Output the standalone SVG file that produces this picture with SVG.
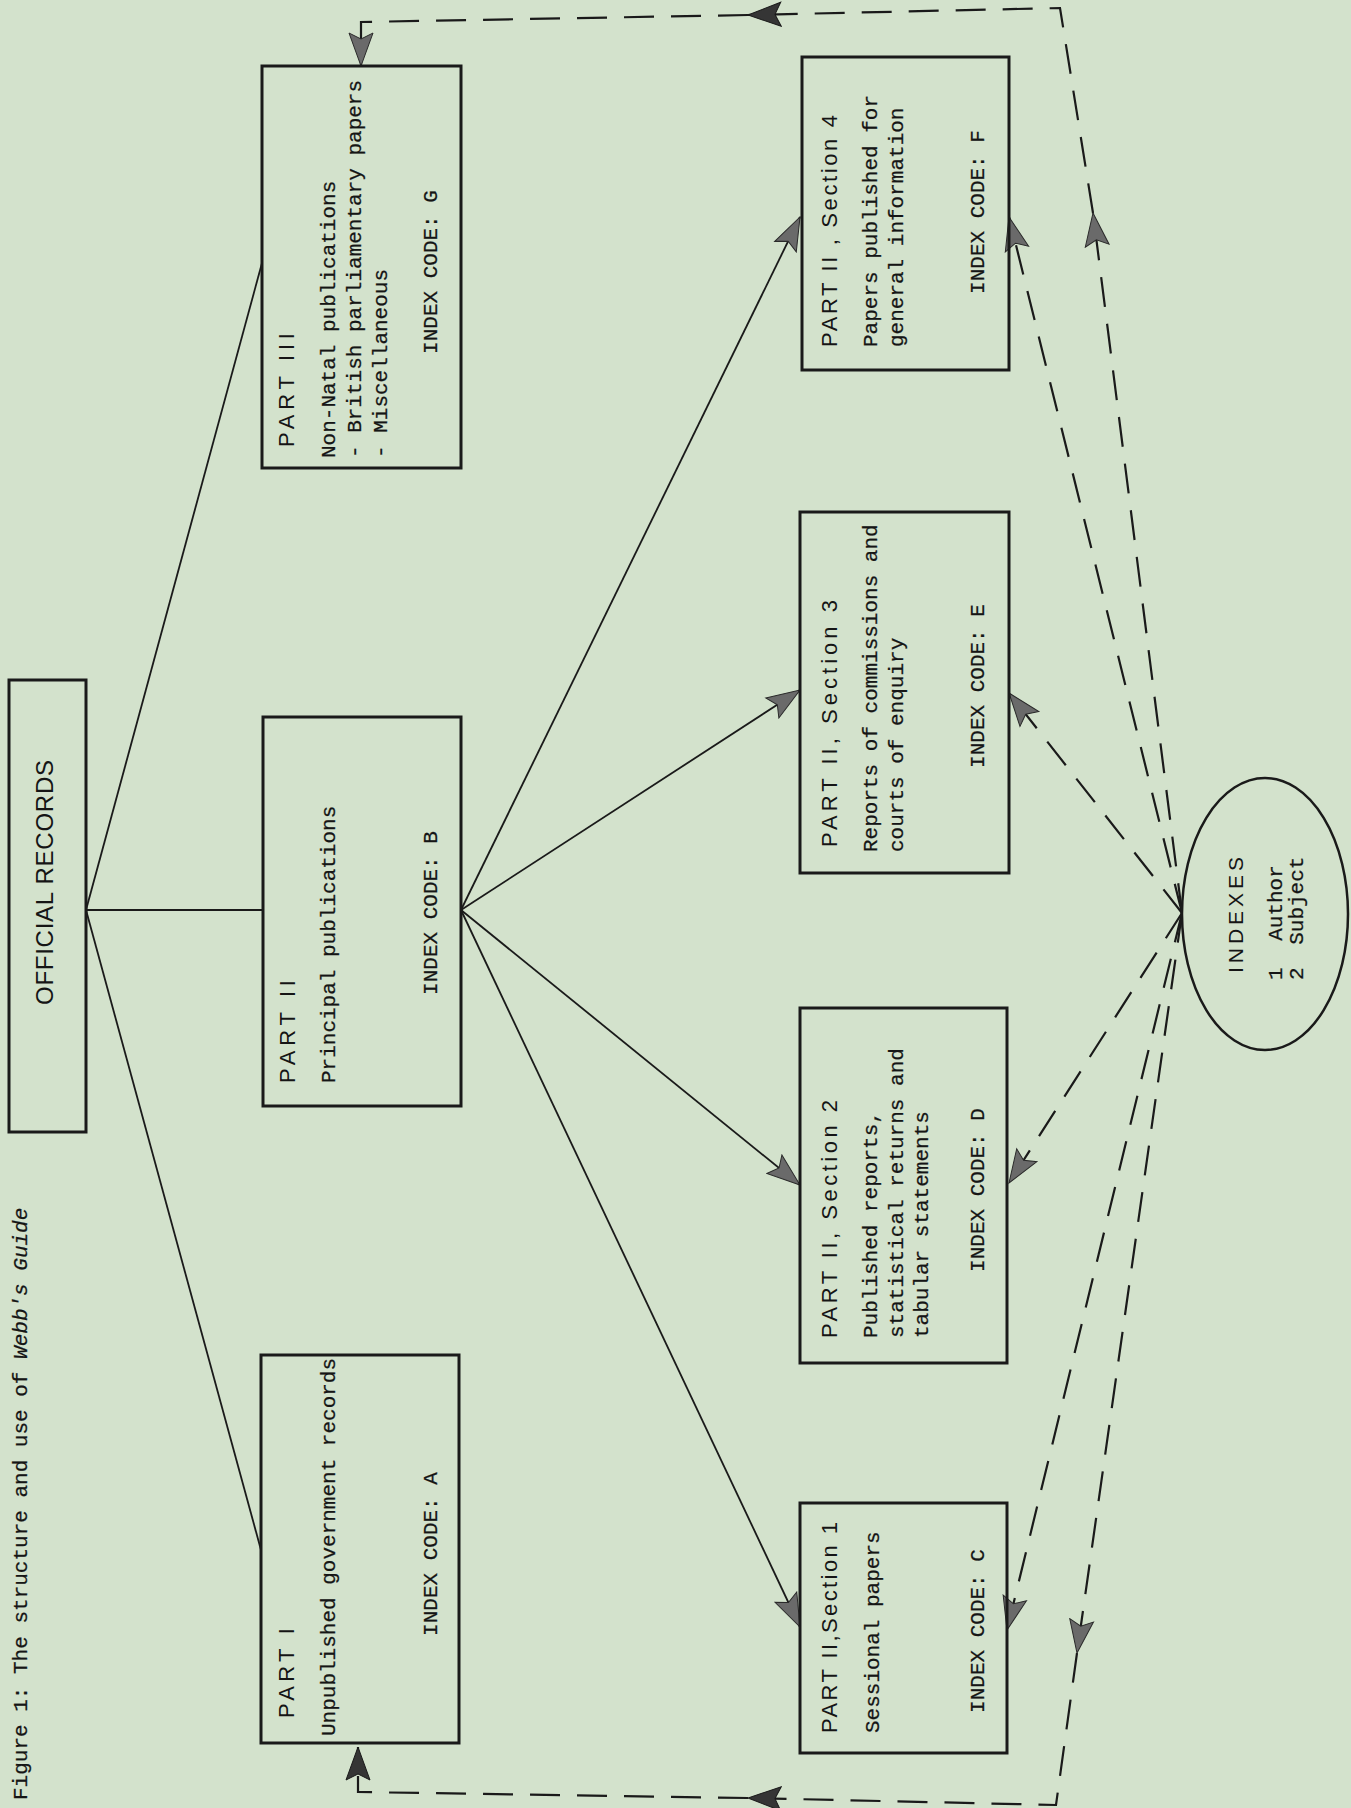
<svg xmlns="http://www.w3.org/2000/svg" width="1351" height="1808" viewBox="0 0 1351 1808">
<style>
.box{fill:none;stroke:#1a1a1a;stroke-width:3}
.ln{fill:none;stroke:#1a1a1a;stroke-width:1.8}
.dl{fill:none;stroke:#1a1a1a;stroke-width:2.2;stroke-dasharray:30 17}
.sans{font-family:"Liberation Sans",Arial,sans-serif;fill:#151515}
.mono{font-family:"Liberation Mono","Courier New",monospace;font-size:21px;fill:#151515;stroke:#151515;stroke-width:0.25}
.ttl{font-size:22px}
</style>
<defs>
<marker id="ag" markerUnits="userSpaceOnUse" markerWidth="36" markerHeight="28" viewBox="0 0 36 28" refX="34" refY="14" orient="auto">
<path d="M1,2 L34,14 L1,26 L7,14 Z" fill="#6a6a6a" stroke="#2a2a2a" stroke-width="1"/>
</marker>
<marker id="ak" markerUnits="userSpaceOnUse" markerWidth="36" markerHeight="28" viewBox="0 0 36 28" refX="34" refY="14" orient="auto">
<path d="M1,2 L34,14 L1,26 L7,14 Z" fill="#353535" stroke="#1a1a1a" stroke-width="1"/>
</marker>
</defs>
<rect x="0" y="0" width="1351" height="1808" fill="#d3e2cc"/>

<g id="caption">
<text class="mono" transform="translate(27,1800) rotate(-90)">Figure 1: The structure and use of <tspan font-style="italic">Webb's Guide</tspan></text>
</g>

<g id="connectors">
<path class="ln" d="M86,910 L262,263"/>
<path class="ln" d="M86,910 L263,910"/>
<path class="ln" d="M86,910 L261,1550"/>
<path class="ln" d="M461,910 L800,217" marker-end="url(#ag)"/>
<path class="ln" d="M461,910 L800,690" marker-end="url(#ag)"/>
<path class="ln" d="M461,910 L800,1185" marker-end="url(#ag)"/>
<path class="ln" d="M461,910 L800,1627" marker-end="url(#ag)"/>
<path class="dl" d="M1182,913 L1009,217" marker-end="url(#ag)"/>
<path class="dl" d="M1182,913 L1009,693" marker-end="url(#ag)"/>
<path class="dl" d="M1182,913 L1009,1183" marker-end="url(#ag)"/>
<path class="dl" d="M1182,913 L1007,1630" marker-end="url(#ag)"/>
<path class="dl" d="M1182,913 L1093,213" marker-end="url(#ag)"/>
<path class="dl" d="M1093,213 L1060,8 L748,15" marker-end="url(#ak)"/>
<path class="dl" d="M748,15 L361,22 L361,66" marker-end="url(#ag)"/>
<path class="dl" d="M1182,913 L1077,1653" marker-end="url(#ag)"/>
<path class="dl" d="M1077,1653 L1056,1805 L748,1798" marker-end="url(#ak)"/>
<path class="dl" d="M748,1798 L358,1792 L358,1747" marker-end="url(#ak)"/>
</g>

<g id="official-records">
<rect class="box" x="9" y="680" width="77" height="452"/>
<text class="sans" font-size="24" transform="translate(53,1005) rotate(-90)" textLength="245" lengthAdjust="spacing">OFFICIAL RECORDS</text>
</g>

<g id="part-3">
<rect class="box" x="262" y="66" width="199" height="402"/>
<text class="sans ttl" transform="translate(294,447) rotate(-90)" textLength="114" lengthAdjust="spacing">PART III</text>
<text class="mono" transform="translate(335,458) rotate(-90)">Non-Natal publications</text>
<text class="mono" transform="translate(361,458) rotate(-90)">- British parliamentary papers</text>
<text class="mono" transform="translate(387,458) rotate(-90)">- Miscellaneous</text>
<text class="mono" text-anchor="middle" transform="translate(437,272) rotate(-90)">INDEX CODE: G</text>
</g>

<g id="part-2">
<rect class="box" x="263" y="717" width="198" height="389"/>
<text class="sans ttl" transform="translate(295,1083) rotate(-90)" textLength="103" lengthAdjust="spacing">PART II</text>
<text class="mono" transform="translate(335,1083) rotate(-90)">Principal publications</text>
<text class="mono" text-anchor="middle" transform="translate(437,913) rotate(-90)">INDEX CODE: B</text>
</g>

<g id="part-1">
<rect class="box" x="261" y="1355" width="198" height="388"/>
<text class="sans ttl" transform="translate(294,1718) rotate(-90)" textLength="90" lengthAdjust="spacing">PART I</text>
<text class="mono" transform="translate(335,1736) rotate(-90)">Unpublished government records</text>
<text class="mono" text-anchor="middle" transform="translate(437,1554) rotate(-90)">INDEX CODE: A</text>
</g>

<g id="section-4">
<rect class="box" x="802" y="57" width="207" height="313"/>
<text class="sans ttl" transform="translate(837,347) rotate(-90)" textLength="232" lengthAdjust="spacing">PART II , Section 4</text>
<text class="mono" transform="translate(877,347) rotate(-90)">Papers published for</text>
<text class="mono" transform="translate(903,347) rotate(-90)">general information</text>
<text class="mono" text-anchor="middle" transform="translate(984,212) rotate(-90)">INDEX CODE: F</text>
</g>

<g id="section-3">
<rect class="box" x="800" y="512" width="209" height="361"/>
<text class="sans ttl" transform="translate(837,847) rotate(-90)" textLength="247" lengthAdjust="spacing">PART II, Section 3</text>
<text class="mono" transform="translate(877,852) rotate(-90)">Reports of commissions and</text>
<text class="mono" transform="translate(903,852) rotate(-90)">courts of enquiry</text>
<text class="mono" text-anchor="middle" transform="translate(984,686) rotate(-90)">INDEX CODE: E</text>
</g>

<g id="section-2">
<rect class="box" x="800" y="1008" width="207" height="355"/>
<text class="sans ttl" transform="translate(837,1338) rotate(-90)" textLength="238" lengthAdjust="spacing">PART II, Section 2</text>
<text class="mono" transform="translate(877,1338) rotate(-90)">Published reports,</text>
<text class="mono" transform="translate(903,1338) rotate(-90)">statistical returns and</text>
<text class="mono" transform="translate(928,1338) rotate(-90)">tabular statements</text>
<text class="mono" text-anchor="middle" transform="translate(984,1190) rotate(-90)">INDEX CODE: D</text>
</g>

<g id="section-1">
<rect class="box" x="800" y="1503" width="207" height="250"/>
<text class="sans ttl" transform="translate(837,1733) rotate(-90)" textLength="211" lengthAdjust="spacing">PART II,Section 1</text>
<text class="mono" transform="translate(879,1733) rotate(-90)">Sessional papers</text>
<text class="mono" text-anchor="middle" transform="translate(984,1631) rotate(-90)">INDEX CODE: C</text>
</g>

<g id="indexes">
<ellipse cx="1265" cy="914" rx="83" ry="136" fill="none" stroke="#1a1a1a" stroke-width="2.5"/>
<text class="sans" font-size="21" transform="translate(1243,973) rotate(-90)" textLength="116" lengthAdjust="spacing">INDEXES</text>
<text class="mono" transform="translate(1282,980) rotate(-90)">1<tspan dx="14"> Author</tspan></text>
<text class="mono" transform="translate(1303,980) rotate(-90)">2<tspan dx="10"> Subject</tspan></text>
</g>
</svg>
